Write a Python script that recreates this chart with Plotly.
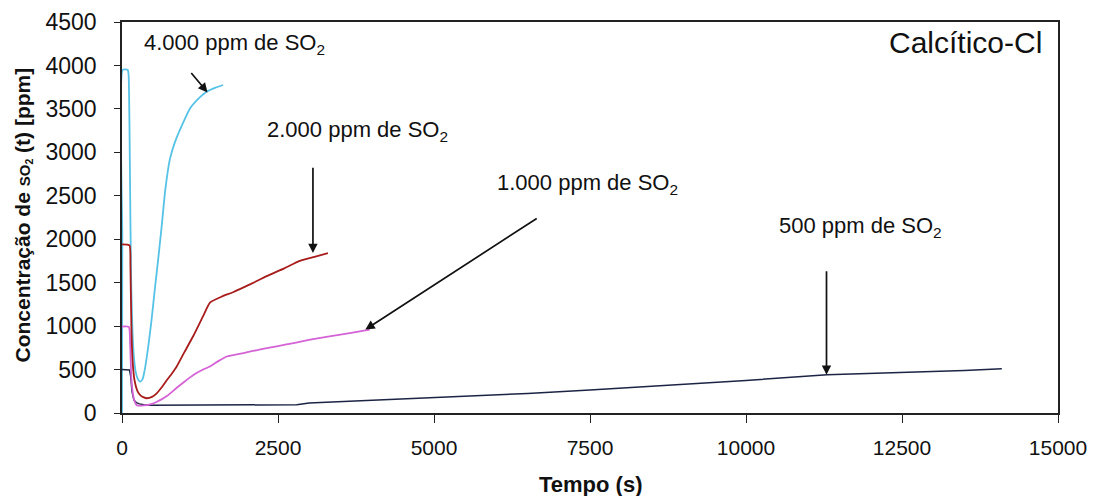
import plotly.graph_objects as go

# ---- data ----
t_4000 = [0, 5, 10, 90, 105, 120, 135, 150, 170, 190, 220, 255, 290, 330, 370, 420, 470, 530, 580, 636, 690, 770, 850, 960, 1090, 1230, 1360, 1500, 1620]
c_4000 = [0, 2000, 3950, 3950, 3900, 3300, 2200, 1400, 900, 650, 470, 390, 360, 390, 520, 760, 1050, 1450, 1770, 2150, 2545, 2930, 3120, 3310, 3505, 3620, 3700, 3745, 3775]

t_2000 = [0, 120, 135, 150, 170, 200, 250, 300, 350, 395, 480, 560, 640, 720, 800, 877, 1000, 1140, 1300, 1410, 1600, 1780, 2050, 2320, 2600, 2850, 3100, 3300]
c_2000 = [1940, 1930, 1700, 1000, 600, 380, 250, 200, 180, 170, 185, 230, 300, 380, 455, 535, 700, 883, 1115, 1270, 1340, 1390, 1480, 1575, 1665, 1750, 1800, 1840]

t_1000 = [0, 110, 130, 150, 180, 210, 235, 300, 395, 480, 560, 640, 720, 877, 1000, 1150, 1300, 1410, 1550, 1680, 1950, 2200, 2480, 2750, 3015, 3300, 3650, 3970]
c_1000 = [995, 990, 800, 400, 200, 120, 90, 85, 90, 105, 130, 160, 195, 290, 360, 440, 500, 535, 600, 650, 690, 730, 767, 805, 845, 880, 920, 960]

t_500 = [0, 120, 140, 160, 190, 230, 280, 350, 450, 700, 1000, 1500, 2000, 2500, 2800, 3000, 3500, 4000, 5000, 6000, 6500, 7500, 8300, 9300, 10000, 11300, 12500, 13500, 14100]
c_500 = [500, 495, 420, 250, 150, 120, 105, 95, 90, 90, 90, 90, 90, 92, 95, 115, 130, 150, 175, 205, 225, 265, 300, 340, 375, 440, 465, 490, 510]

x_ticks = [0, 2500, 5000, 7500, 10000, 12500, 15000]
y_ticks = [0, 500, 1000, 1500, 2000, 2500, 3000, 3500, 4000, 4500]

labels = ["4.000 ppm de SO<sub>2</sub>", "2.000 ppm de SO<sub>2</sub>",
          "1.000 ppm de SO<sub>2</sub>", "500 ppm de SO<sub>2</sub>"]
label_pos = [(1800, 4250), (3770, 3240), (7460, 2640), (11840, 2140)]
arrows = [((1090, 3930), (1370, 3690)), ((3060, 2840), (3060, 1840)),
          ((6670, 2250), (3900, 960)), ((11290, 1650), (11290, 440))]

FONT = "Liberation Sans, Arial, sans-serif"

fig = go.Figure()
fig.add_trace(go.Scatter(x=t_4000, y=c_4000, mode="lines", line=dict(color="#55c2e6", width=1.8, shape="spline", smoothing=0.5), showlegend=False))
fig.add_trace(go.Scatter(x=t_500, y=c_500, mode="lines", line=dict(color="#1c2444", width=1.5), showlegend=False))
fig.add_trace(go.Scatter(x=t_1000, y=c_1000, mode="lines", line=dict(color="#d563d6", width=1.8, shape="spline", smoothing=0.5), showlegend=False))
fig.add_trace(go.Scatter(x=t_2000, y=c_2000, mode="lines", line=dict(color="#a81c1c", width=1.8, shape="spline", smoothing=0.5), showlegend=False))

for txt, (lx, ly) in zip(labels, label_pos):
    fig.add_annotation(x=lx, y=ly, xref="x", yref="y", text=txt, showarrow=False,
                       font=dict(family=FONT, size=22, color="#111111"))

for (tail, head) in arrows:
    fig.add_annotation(x=head[0], y=head[1], ax=tail[0], ay=tail[1], xref="x", yref="y",
                       axref="x", ayref="y", text="", showarrow=True, arrowhead=2,
                       arrowsize=1.1, arrowwidth=1.7, arrowcolor="#111111")

fig.add_annotation(x=0.985, y=0.995, xref="paper", yref="paper", xanchor="right", yanchor="top",
                   text="Calcítico-Cl", showarrow=False, font=dict(family=FONT, size=30, color="#111111"))

# axis titles placed as annotations for exact positioning
fig.add_annotation(x=0, y=0.5, xref="paper", yref="paper", xanchor="center", yanchor="middle",
                   xshift=-100, yshift=2, textangle=-90, showarrow=False,
                   text="<b>Concentração de <span style='font-size:15px'>SO<sub>2</sub></span> (t) [ppm]</b>",
                   font=dict(family=FONT, size=21, color="#111111"))
fig.add_annotation(x=0.5, y=0, xref="paper", yref="paper", xanchor="center", yanchor="middle",
                   yshift=-71, showarrow=False, text="<b>Tempo (s)</b>",
                   font=dict(family=FONT, size=22, color="#111111"))

# page body has an 8px margin: shift the figure geometry accordingly
fig.update_layout(
    width=1087, height=488,
    margin=dict(l=114, r=37, t=14, b=83, autoexpand=False),
    paper_bgcolor="white", plot_bgcolor="white",
    font=dict(family=FONT, size=21, color="#111111"),
)
fig.update_xaxes(
    range=[0, 15000], tickvals=x_ticks, ticktext=[str(v) for v in x_ticks],
    showgrid=False, zeroline=False, showline=True, linecolor="#222222", linewidth=1.5,
    mirror=True, ticks="outside", ticklen=8, tickcolor="#222222", ticklabelstandoff=7,
    tickfont=dict(size=21), automargin=False,
)
fig.update_yaxes(
    range=[0, 4500], tickvals=y_ticks, ticktext=[str(v) for v in y_ticks],
    showgrid=False, zeroline=False, showline=True, linecolor="#222222", linewidth=1.5,
    mirror=True, ticks="outside", ticklen=6, tickcolor="#222222", ticklabelstandoff=13,
    tickfont=dict(size=23), automargin=False,
)

fig.write_html("out.html")
